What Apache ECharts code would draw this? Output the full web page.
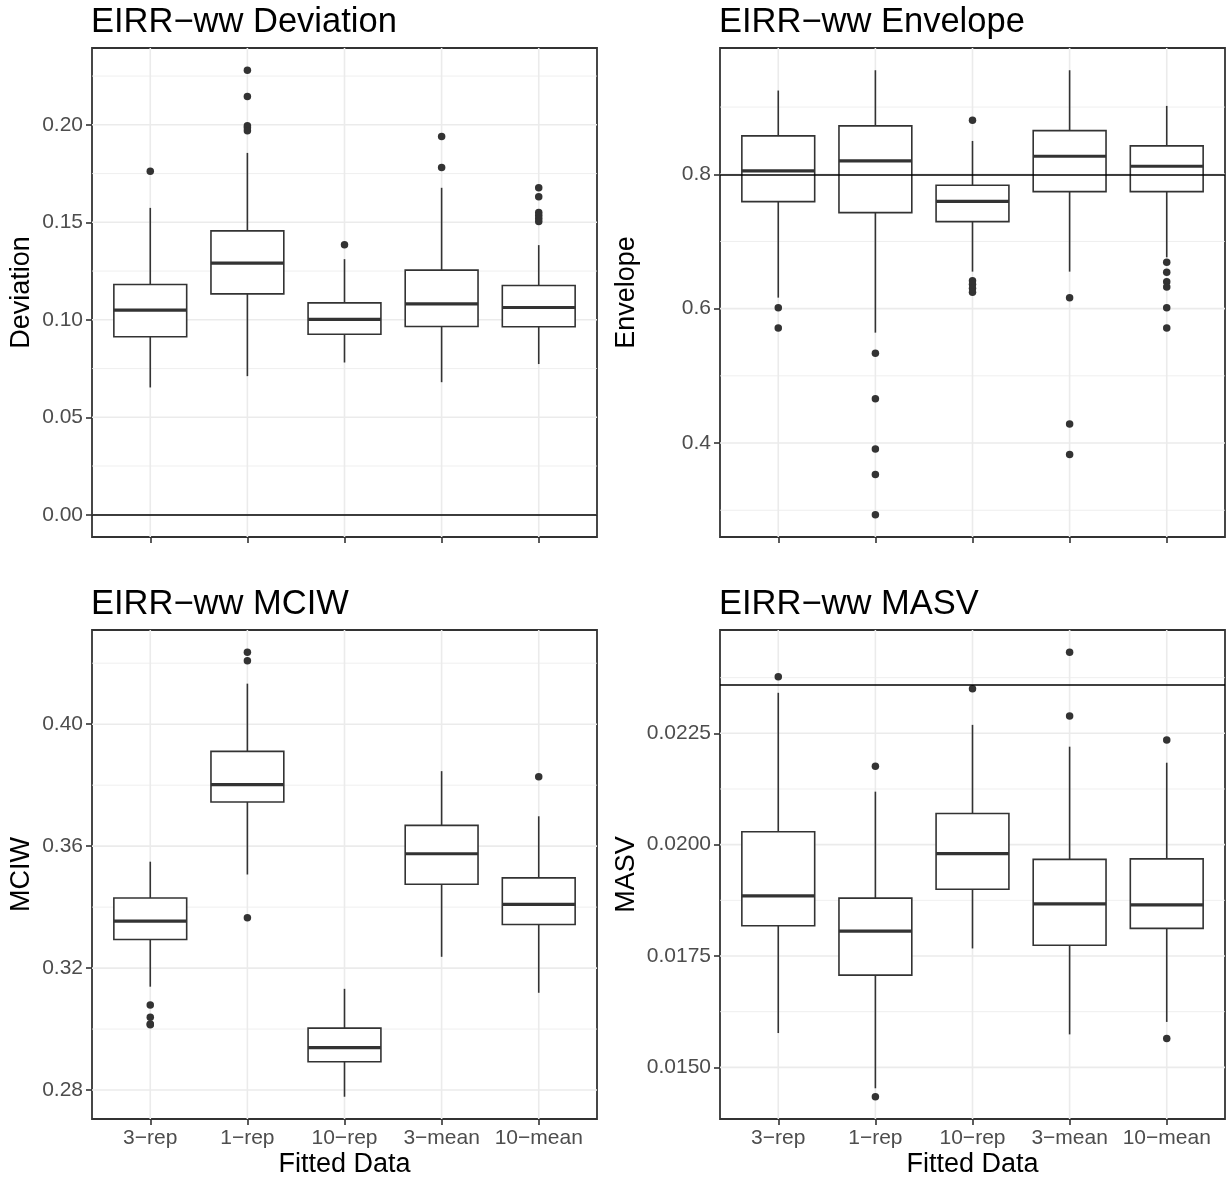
<!DOCTYPE html>
<html>
<head>
<meta charset="utf-8">
<script src="https://cdn.jsdelivr.net/npm/echarts@6/dist/echarts.min.js"></script>
<style>
html,body{margin:0;padding:0;background:#fff;}
#chart{width:1231px;height:1179px;}
</style>
</head>
<body>
<div id="chart"></div>
<script>
// ---------- data ----------
const categories = ['3\u2212rep', '1\u2212rep', '10\u2212rep', '3\u2212mean', '10\u2212mean'];

// Deviation
const devMin = [0.0653, 0.0711, 0.0781, 0.0680, 0.0773];
const devQ1  = [0.0913, 0.1133, 0.0926, 0.0966, 0.0964];
const devMed = [0.1050, 0.1291, 0.1002, 0.1082, 0.1063];
const devQ3  = [0.1181, 0.1456, 0.1087, 0.1255, 0.1176];
const devMax = [0.1574, 0.1856, 0.1311, 0.1677, 0.1383];
const devOutliers = [[0, 0.1762], [1, 0.2280], [1, 0.2145], [1, 0.1995], [1, 0.1985], [1, 0.1970],
  [2, 0.1385], [3, 0.1940], [3, 0.1781], [4, 0.1677], [4, 0.1631], [4, 0.1550], [4, 0.1535], [4, 0.1520], [4, 0.1504]];
const devTicks = [0, 0.05, 0.10, 0.15, 0.20];
const devTickLabels = ['0.00', '0.05', '0.10', '0.15', '0.20'];
const devMinor = [0.025, 0.075, 0.125, 0.175, 0.225];
const devRef = 0;

// Envelope
const envMin = [0.6164, 0.5643, 0.6551, 0.6551, 0.6764];
const envQ1  = [0.7593, 0.7429, 0.7295, 0.7742, 0.7742];
const envMed = [0.8050, 0.8199, 0.7598, 0.8268, 0.8119];
const envQ3  = [0.8571, 0.8720, 0.7836, 0.8650, 0.8422];
const envMax = [0.9246, 0.9548, 0.8496, 0.9548, 0.9017];
const envOutliers = [[0, 0.6015], [0, 0.5712],
  [1, 0.5335], [1, 0.4660], [1, 0.3911], [1, 0.3533], [1, 0.2933],
  [2, 0.8804], [2, 0.6417], [2, 0.6362], [2, 0.6303], [2, 0.6243],
  [3, 0.6164], [3, 0.4283], [3, 0.3831],
  [4, 0.6690], [4, 0.6541], [4, 0.6402], [4, 0.6323], [4, 0.6015], [4, 0.5712]];
const envTicks = [0.4, 0.6, 0.8];
const envTickLabels = ['0.4', '0.6', '0.8'];
const envMinor = [0.3, 0.5, 0.7, 0.9];
const envRef = 0.8;

// MCIW
const mciwMin = [0.3139, 0.3507, 0.2778, 0.3237, 0.3119];
const mciwQ1  = [0.3294, 0.3745, 0.2893, 0.3475, 0.3343];
const mciwMed = [0.3354, 0.3802, 0.2939, 0.3575, 0.3409];
const mciwQ3  = [0.3430, 0.3911, 0.3003, 0.3668, 0.3496];
const mciwMax = [0.3549, 0.4133, 0.3132, 0.3846, 0.3698];
const mciwOutliers = [[0, 0.3079], [0, 0.3039], [0, 0.3017], [0, 0.3014],
  [1, 0.4236], [1, 0.4208], [1, 0.3365], [4, 0.3828]];
const mciwTicks = [0.28, 0.32, 0.36, 0.40];
const mciwTickLabels = ['0.28', '0.32', '0.36', '0.40'];
const mciwMinor = [0.30, 0.34, 0.38, 0.42];

// MASV
const masvMin = [0.01577, 0.01453, 0.01767, 0.01574, 0.01602];
const masvQ1  = [0.01818, 0.01707, 0.01900, 0.01774, 0.01812];
const masvMed = [0.01885, 0.01806, 0.01980, 0.01867, 0.01865];
const masvQ3  = [0.02029, 0.01880, 0.02070, 0.01967, 0.01968];
const masvMax = [0.02341, 0.02119, 0.02269, 0.02220, 0.02184];
const masvOutliers = [[0, 0.02377], [1, 0.02176], [1, 0.01434], [2, 0.02350],
  [3, 0.02432], [3, 0.02289], [4, 0.02235], [4, 0.01565]];
const masvTicks = [0.0150, 0.0175, 0.0200, 0.0225];
const masvTickLabels = ['0.0150', '0.0175', '0.0200', '0.0225'];
const masvMinor = [0.01625, 0.01875, 0.02125, 0.02375];
const masvRef = 0.0236;

// ---------- chart ----------
const FONT = 'Liberation Sans, Arial, sans-serif';
const DARK = '#333333';

const panels = [
  {title: 'EIRR\u2212ww Deviation', yName: 'Deviation', min: devMin, q1: devQ1, med: devMed, q3: devQ3, max: devMax,
   out: devOutliers, ticks: devTicks, labels: devTickLabels, minor: devMinor, ref: devRef,
   yMin: -0.0114, yMax: 0.2394, left: 92, top: 48, xLabels: false, nameGap: 57},
  {title: 'EIRR\u2212ww Envelope', yName: 'Envelope', min: envMin, q1: envQ1, med: envMed, q3: envQ3, max: envMax,
   out: envOutliers, ticks: envTicks, labels: envTickLabels, minor: envMinor, ref: envRef,
   yMin: 0.2602, yMax: 0.9879, left: 720, top: 48, xLabels: false, nameGap: 80},
  {title: 'EIRR\u2212ww MCIW', yName: 'MCIW', min: mciwMin, q1: mciwQ1, med: mciwMed, q3: mciwQ3, max: mciwMax,
   out: mciwOutliers, ticks: mciwTicks, labels: mciwTickLabels, minor: mciwMinor, ref: null,
   yMin: 0.2705, yMax: 0.4309, left: 92, top: 630, xLabels: true, nameGap: 57},
  {title: 'EIRR\u2212ww MASV', yName: 'MASV', min: masvMin, q1: masvQ1, med: masvMed, q3: masvQ3, max: masvMax,
   out: masvOutliers, ticks: masvTicks, labels: masvTickLabels, minor: masvMinor, ref: masvRef,
   yMin: 0.01384, yMax: 0.02482, left: 720, top: 630, xLabels: true, nameGap: 80}
];

const PW = 505, PH = 489;
const catIdx = categories.map((c, i) => i);

function renderGrid(params, api) {
  const cs = params.coordSys;
  const isY = api.value(0) === 1;
  const v = api.value(1);
  const major = api.value(2) === 1;
  const style = {stroke: '#EBEBEB', lineWidth: major ? 1.6 : 0.8};
  if (isY) {
    const p = api.coord([0, v]);
    return {type: 'line', shape: {x1: cs.x, y1: p[1], x2: cs.x + cs.width, y2: p[1]}, style: style};
  }
  const p = api.coord([v, cs.y]);
  return {type: 'line', shape: {x1: p[0], y1: cs.y, x2: p[0], y2: cs.y + cs.height}, style: style};
}

function renderBox(params, api) {
  const x = api.value(0);
  const half = 0.375;
  const pMin = api.coord([x, api.value(1)]);
  const pQ1 = api.coord([x, api.value(2)]);
  const pMed = api.coord([x, api.value(3)]);
  const pQ3 = api.coord([x, api.value(4)]);
  const pMax = api.coord([x, api.value(5)]);
  const xl = api.coord([x - half, api.value(3)])[0];
  const xr = api.coord([x + half, api.value(3)])[0];
  const ls = {stroke: DARK, lineWidth: 1.6};
  return {type: 'group', children: [
    {type: 'line', shape: {x1: pMax[0], y1: pMax[1], x2: pQ3[0], y2: pQ3[1]}, style: ls},
    {type: 'line', shape: {x1: pQ1[0], y1: pQ1[1], x2: pMin[0], y2: pMin[1]}, style: ls},
    {type: 'rect', shape: {x: xl, y: pQ3[1], width: xr - xl, height: pQ1[1] - pQ3[1]},
     style: {fill: '#ffffff', stroke: DARK, lineWidth: 1.6}},
    {type: 'line', shape: {x1: xl, y1: pMed[1], x2: xr, y2: pMed[1]}, style: {stroke: DARK, lineWidth: 3.2}}
  ]};
}

const option = {
  animation: false,
  backgroundColor: '#ffffff',
  textStyle: {fontFamily: FONT},
  title: [], grid: [], xAxis: [], yAxis: [], series: []
};

panels.forEach((p, k) => {
  option.title.push({
    text: p.title, left: p.left - 1, top: p.top - 43.5, padding: 0,
    textStyle: {fontSize: 34.5, fontWeight: 'normal', color: '#000000', fontFamily: FONT}
  });
  option.grid.push({
    left: p.left, top: p.top, width: PW, height: PH, show: true,
    backgroundColor: '#ffffff', borderColor: DARK, borderWidth: 1.8, containLabel: false
  });
  option.xAxis.push({
    type: 'value', gridIndex: k, min: -0.6, max: 4.6, position: 'bottom',
    axisLine: {show: false, onZero: false},
    axisTick: {show: true, customValues: catIdx, length: 6, lineStyle: {color: DARK, width: 1.6}},
    axisLabel: {show: p.xLabels, customValues: catIdx, formatter: v => categories[Math.round(v)],
      fontSize: 21, color: '#4D4D4D', margin: 9, fontFamily: FONT},
    splitLine: {show: false},
    name: p.xLabels ? 'Fitted Data' : '', nameLocation: 'middle', nameGap: 32,
    nameTextStyle: {fontSize: 27, color: '#000000', fontFamily: FONT}
  });
  option.yAxis.push({
    type: 'value', gridIndex: k, min: p.yMin, max: p.yMax, position: 'left',
    axisLine: {show: false, onZero: false},
    axisTick: {show: true, customValues: p.ticks, length: 6, lineStyle: {color: DARK, width: 1.6}},
    axisLabel: {show: true, customValues: p.ticks,
      formatter: v => { const i = p.ticks.findIndex(t => Math.abs(t - v) < 1e-9); return i >= 0 ? p.labels[i] : ''; },
      fontSize: 21, color: '#4D4D4D', margin: 9, fontFamily: FONT},
    splitLine: {show: false},
    name: p.yName, nameLocation: 'middle', nameGap: p.nameGap,
    nameTextStyle: {fontSize: 27, color: '#000000', fontFamily: FONT}
  });
  const gridData = [];
  p.minor.forEach(v => gridData.push([1, v, 0]));
  p.ticks.forEach(v => gridData.push([1, v, 1]));
  catIdx.forEach(v => gridData.push([0, v, 1]));
  option.series.push({
    type: 'custom', xAxisIndex: k, yAxisIndex: k, z: 1, silent: true,
    renderItem: renderGrid, data: gridData, encode: {x: -1, y: -1}
  });
  option.series.push({
    type: 'custom', xAxisIndex: k, yAxisIndex: k, z: 2, silent: true,
    renderItem: renderBox,
    data: catIdx.map(i => [i, p.min[i], p.q1[i], p.med[i], p.q3[i], p.max[i]]),
    encode: {x: 0, y: [1, 2, 3, 4, 5]}
  });
  const sc = {
    type: 'scatter', xAxisIndex: k, yAxisIndex: k, z: 3, silent: true,
    symbol: 'circle', symbolSize: 7.5, itemStyle: {color: DARK, opacity: 1},
    data: p.out
  };
  if (p.ref !== null) {
    sc.markLine = {silent: true, symbol: ['none', 'none'], label: {show: false}, precision: 8,
      lineStyle: {color: '#000000', width: 1.6, type: 'solid'}, data: [{yAxis: p.ref}]};
  }
  option.series.push(sc);
});

const chart = echarts.init(document.getElementById('chart'), null, {renderer: 'canvas'});
chart.setOption(option);
</script>
</body>
</html>
